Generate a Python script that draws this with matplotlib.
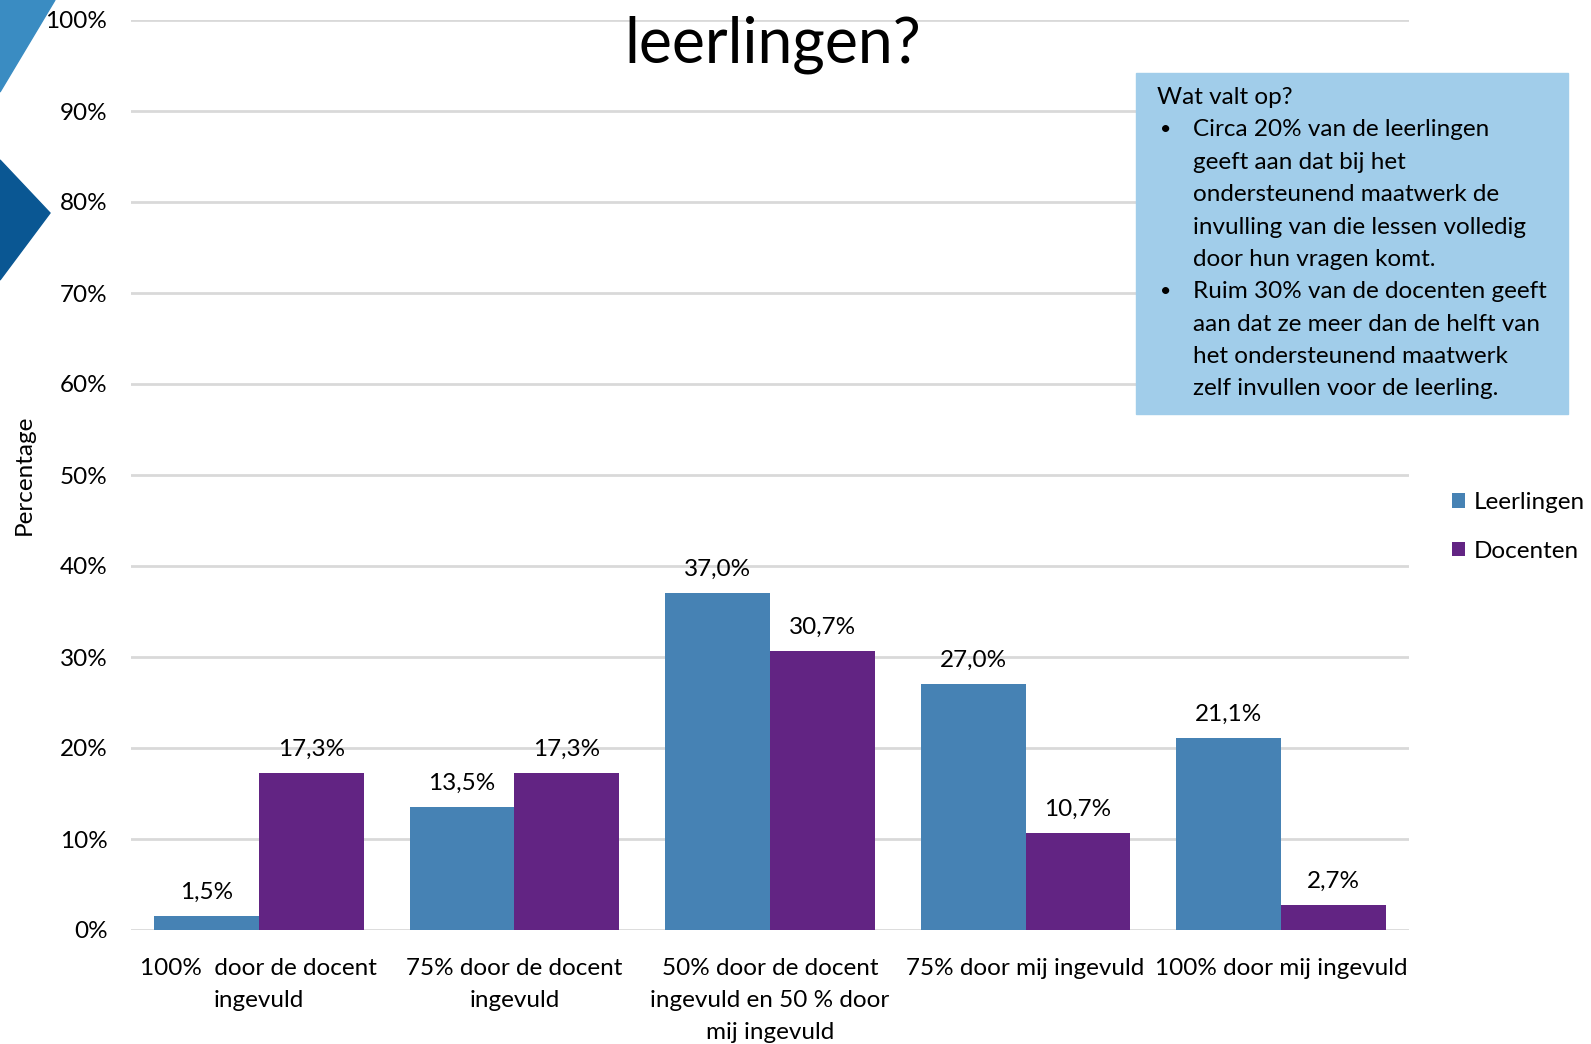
import matplotlib.pyplot as plt
import numpy as np
from matplotlib.patches import Polygon, Rectangle

plt.rcParams['font.family'] = ['Lato', 'DejaVu Sans']

# Gegevens
categorieen = ["100%  door de docent\ningevuld",
               "75% door de docent\ningevuld",
               "50% door de docent\ningevuld en 50 % door\nmij ingevuld",
               "75% door mij ingevuld",
               "100% door mij ingevuld"]
leerlingen = [1.5, 13.5, 37.0, 27.0, 21.1]
docenten = [17.3, 17.3, 30.7, 10.7, 2.7]
yticks = [0, 10, 20, 30, 40, 50, 60, 70, 80, 90, 100]

kader_titel = "Wat valt op?"
kader_punten = [
    ["Circa 20% van de leerlingen", "geeft aan dat bij het",
     "ondersteunend maatwerk de", "invulling van die lessen volledig",
     "door hun vragen komt."],
    ["Ruim 30% van de docenten geeft", "aan dat ze meer dan de helft van",
     "het ondersteunend maatwerk", "zelf invullen voor de leerling."],
]

kleur_l = "#4682B4"
kleur_d = "#622483"

W, H = 1591, 1044
fig = plt.figure(figsize=(W / 100, H / 100), dpi=100)
ax = fig.add_axes([131 / W, 1 - 930 / H, (1409 - 131) / W, 910 / H])

x = np.arange(len(categorieen))
b = 0.41
bars_l = ax.bar(x - b / 2, leerlingen, b, color=kleur_l, label="Leerlingen", zorder=3)
bars_d = ax.bar(x + b / 2, docenten, b, color=kleur_d, label="Docenten", zorder=3)

for bars, vals in [(bars_l, leerlingen), (bars_d, docenten)]:
    for r, v in zip(bars, vals):
        ax.annotate(f"{v:.1f}%".replace(".", ","),
                    (r.get_x() + r.get_width() / 2, v),
                    xytext=(0, 17), textcoords="offset points",
                    ha="center", va="center", fontsize=17.5)

ax.set_xlim(-0.5, len(categorieen) - 0.5)
ax.set_ylim(0, 100)
ax.set_yticks(yticks)
ax.set_yticklabels([f"{t}%" for t in yticks], fontsize=17.5)
ax.set_xticks(x)
ax.set_xticklabels(categorieen, fontsize=17.5, linespacing=1.65)
ax.tick_params(axis="both", length=0)
ax.tick_params(axis="y", pad=17)
ax.tick_params(axis="x", pad=20)
ax.grid(axis="y", color="#D9D9D9", linewidth=2, zorder=0)
for s in ax.spines.values():
    s.set_visible(False)

fig.text(24 / W, 1 - 475 / H, "Percentage", rotation=90, ha="center",
         va="center", fontsize=17.5)

ax.legend(loc="center left", bbox_to_anchor=(1452 / W, 1 - 527 / H),
          bbox_transform=fig.transFigure, frameon=False, fontsize=17.5,
          borderaxespad=0, borderpad=0,
          handlelength=0.55, handleheight=0.55, handletextpad=0.35,
          labelspacing=1.12)

# titel (gedeeltelijk buiten beeld)
fig.text(773 / W, 1 - 63 / H, "leerlingen?", ha="center", va="baseline",
         fontsize=45)

# decoratie links
fig.patches.append(Polygon([(0, 1), (55 / W, 1), (0, 1 - 92 / H)],
                           closed=True, transform=fig.transFigure,
                           color="#3A8CC2", zorder=0))
fig.patches.append(Polygon([(0, 1 - 160 / H), (50 / W, 1 - 213 / H), (0, 1 - 280 / H)],
                           closed=True, transform=fig.transFigure,
                           color="#0A5793", zorder=0))

# tekstkader
fig.patches.append(Rectangle((1136 / W, 1 - 414 / H), (1568 - 1136) / W, (414 - 73) / H,
                             transform=fig.transFigure, color="#A1CDEA", zorder=5))
y = 97.4
fig.text(1157 / W, 1 - y / H, kader_titel, fontsize=17.5, va="center", zorder=6)
for punt in kader_punten:
    y += 32.4
    fig.text(1160 / W, 1 - y / H, "\u2022", fontsize=14, va="center", zorder=6)
    for regel in punt:
        fig.text(1193 / W, 1 - y / H, regel, fontsize=17.5, va="center", zorder=6)
        y += 32.4
    y -= 32.4

fig.savefig("out.png", dpi=100)
